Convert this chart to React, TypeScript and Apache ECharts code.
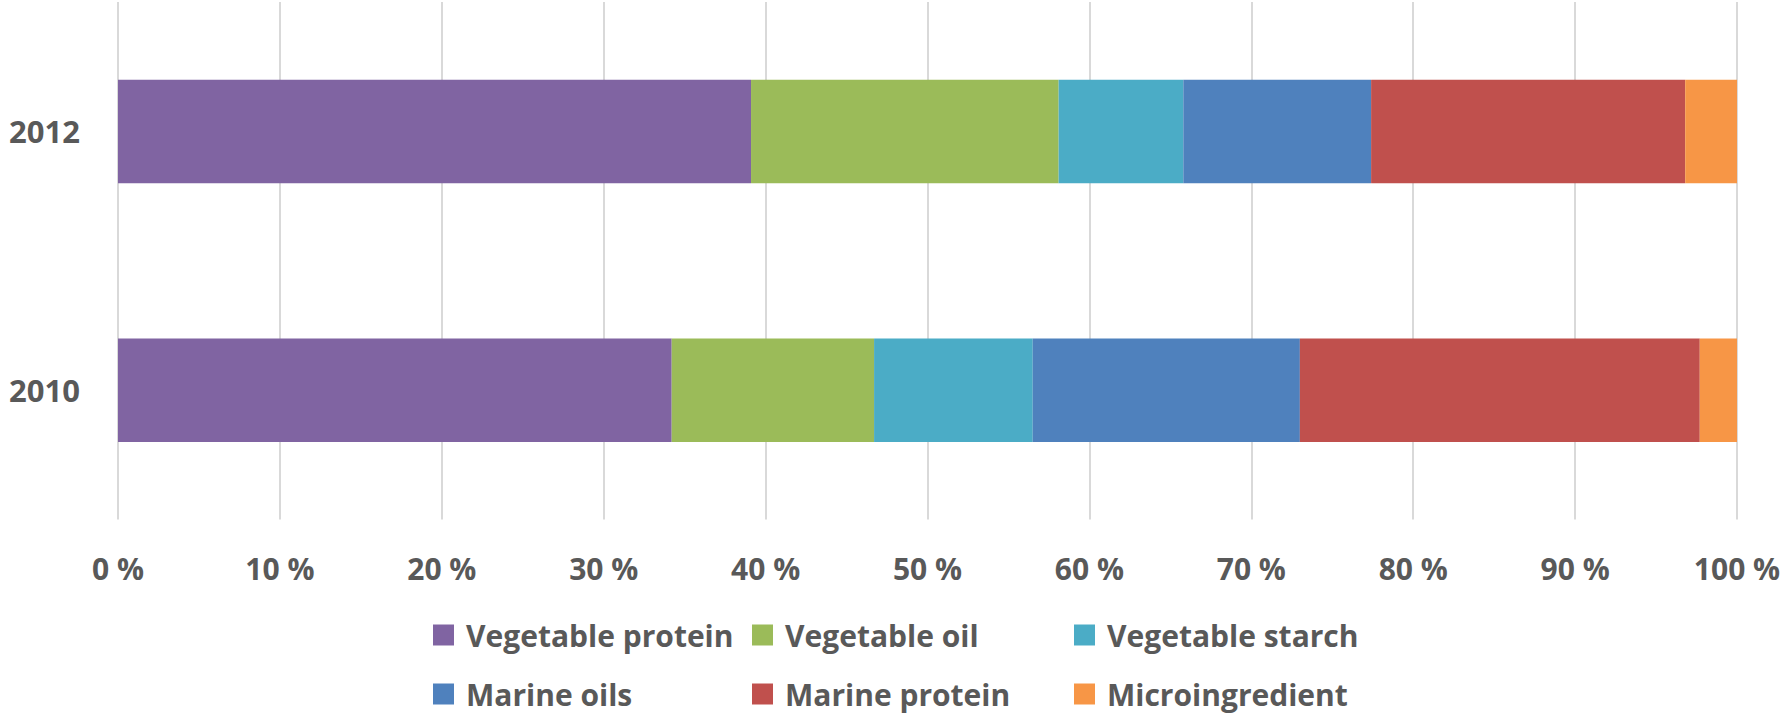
import React, { useEffect, useRef } from "react";
import * as echarts from "echarts";

const years = ["2010", "2012"];
const vegetableProtein = [34.2, 39.1];
const vegetableOil = [12.5, 19.0];
const vegetableStarch = [9.8, 7.7];
const marineOils = [16.5, 11.6];
const marineProtein = [24.7, 19.4];
const microingredient = [2.3, 3.2];

const seriesDefs = [
  { name: "Vegetable protein", data: vegetableProtein, color: "#8064A2" },
  { name: "Vegetable oil", data: vegetableOil, color: "#9BBB59" },
  { name: "Vegetable starch", data: vegetableStarch, color: "#4BACC6" },
  { name: "Marine oils", data: marineOils, color: "#4F81BD" },
  { name: "Marine protein", data: marineProtein, color: "#C0504D" },
  { name: "Microingredient", data: microingredient, color: "#F79646" },
];

const FONT = "'Open Sans', 'Liberation Sans', sans-serif";
const TXT = "#595959";

export default function App() {
  const ref = useRef<HTMLDivElement>(null);
  useEffect(() => {
    if (!ref.current) return;
    const chart = echarts.init(ref.current, null, { renderer: "svg" });
    const legendText = {
      fontFamily: FONT,
      fontWeight: "bold" as const,
      fontSize: 30,
      color: TXT,
      lineHeight: 30,
      padding: [0, 0, 0, 7],
    };
    const mkLegend = (left: number, data: string[]) => ({
      orient: "vertical" as const,
      left,
      top: 620,
      height: 150,
      padding: 0,
      itemWidth: 21,
      itemHeight: 21,
      itemGap: 29,
      icon: "rect",
      selectedMode: false,
      textStyle: legendText,
      data,
    });
    chart.setOption({
      animation: false,
      backgroundColor: "#ffffff",
      grid: { left: 118, right: 50, top: 2, bottom: 197.5, containLabel: false },
      legend: [
        mkLegend(433, ["Vegetable protein", "Marine oils"]),
        mkLegend(752, ["Vegetable oil", "Marine protein"]),
        mkLegend(1074, ["Vegetable starch", "Microingredient"]),
      ],
      xAxis: {
        type: "value",
        min: 0,
        max: 100,
        interval: 10,
        axisLine: { show: false },
        axisTick: { show: false },
        splitLine: { show: true, lineStyle: { color: "#d9d9d9", width: 2 } },
        axisLabel: {
          formatter: "{value} %",
          fontFamily: FONT,
          fontWeight: "bold",
          fontSize: 30,
          lineHeight: 30,
          color: TXT,
          margin: 34,
        },
      },
      yAxis: {
        type: "category",
        data: years,
        axisLine: { show: false },
        axisTick: { show: false },
        axisLabel: {
          fontFamily: FONT,
          fontWeight: "bold",
          fontSize: 31,
          color: TXT,
          margin: 38,
        },
      },
      series: seriesDefs.map((s) => ({
        name: s.name,
        type: "bar",
        stack: "total",
        barWidth: "40%",
        data: s.data,
        itemStyle: { color: s.color },
      })),
    });
    return () => chart.dispose();
  }, []);
  return (
    <div
      ref={ref}
      style={{ position: "absolute", left: 0, top: 0, width: 1787, height: 717 }}
    />
  );
}
